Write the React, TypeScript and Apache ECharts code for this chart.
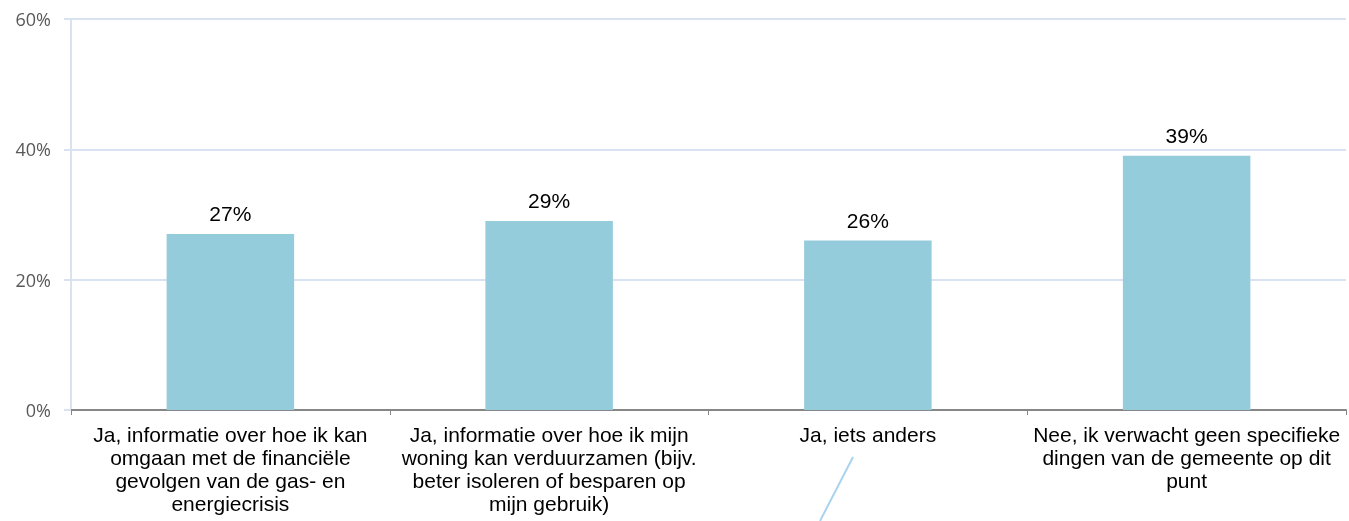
import React, { useEffect, useRef } from "react";
import * as echarts from "echarts";

const categories = [
  "Ja, informatie over hoe ik kan\nomgaan met de financiële\ngevolgen van de gas- en\nenergiecrisis",
  "Ja, informatie over hoe ik mijn\nwoning kan verduurzamen (bijv.\nbeter isoleren of besparen op\nmijn gebruik)",
  "Ja, iets anders",
  "Nee, ik verwacht geen specifieke\ndingen van de gemeente op dit\npunt",
];
const values = [27, 29, 26, 39];
const yTicks = [0, 20, 40, 60];

export default function App() {
  const ref = useRef<HTMLDivElement>(null);
  useEffect(() => {
    const chart = echarts.init(ref.current!, null, { renderer: "svg" });
    chart.setOption({
      animation: false,
      grid: { left: 71, right: 3, top: 19, bottom: 111 },
      xAxis: {
        type: "category",
        data: categories,
        axisLine: { lineStyle: { color: "#868686", width: 2 } },
        axisTick: { show: true, length: 5, lineStyle: { color: "#868686" } },
        axisLabel: {
          interval: 0,
          color: "#000",
          fontFamily: "Liberation Sans, Arial, sans-serif",
          fontSize: 21,
          lineHeight: 23,
          margin: 13,
        },
      },
      yAxis: {
        type: "value",
        min: yTicks[0],
        max: yTicks[yTicks.length - 1],
        interval: 20,
        axisLine: { show: true, lineStyle: { color: "#D9E2F1", width: 2 } },
        axisTick: { show: true, length: 7, lineStyle: { color: "#D9E2F1", width: 2 } },
        splitLine: { lineStyle: { color: "#D9E2F1", width: 2 } },
        axisLabel: {
          formatter: "{value}%",
          color: "#595959",
          fontFamily: "Open Sans, sans-serif",
          fontSize: 18,
          margin: 20,
        },
      },
      series: [
        {
          type: "bar",
          data: values,
          barWidth: "40%",
          itemStyle: { color: "#95CCDC" },
          label: {
            show: true,
            position: "top",
            formatter: "{c}%",
            color: "#000",
            fontFamily: "Liberation Sans, Arial, sans-serif",
            fontSize: 21,
            distance: 10,
          },
        },
      ],
      graphic: [
        {
          type: "line",
          shape: { x1: 853, y1: 457, x2: 820, y2: 521 },
          style: { stroke: "#A9D3EE", lineWidth: 2 },
        },
      ],
    });
    return () => chart.dispose();
  }, []);
  return (
    <div
      ref={ref}
      style={{ position: "fixed", left: 0, top: 0, width: 1349, height: 521 }}
    />
  );
}
